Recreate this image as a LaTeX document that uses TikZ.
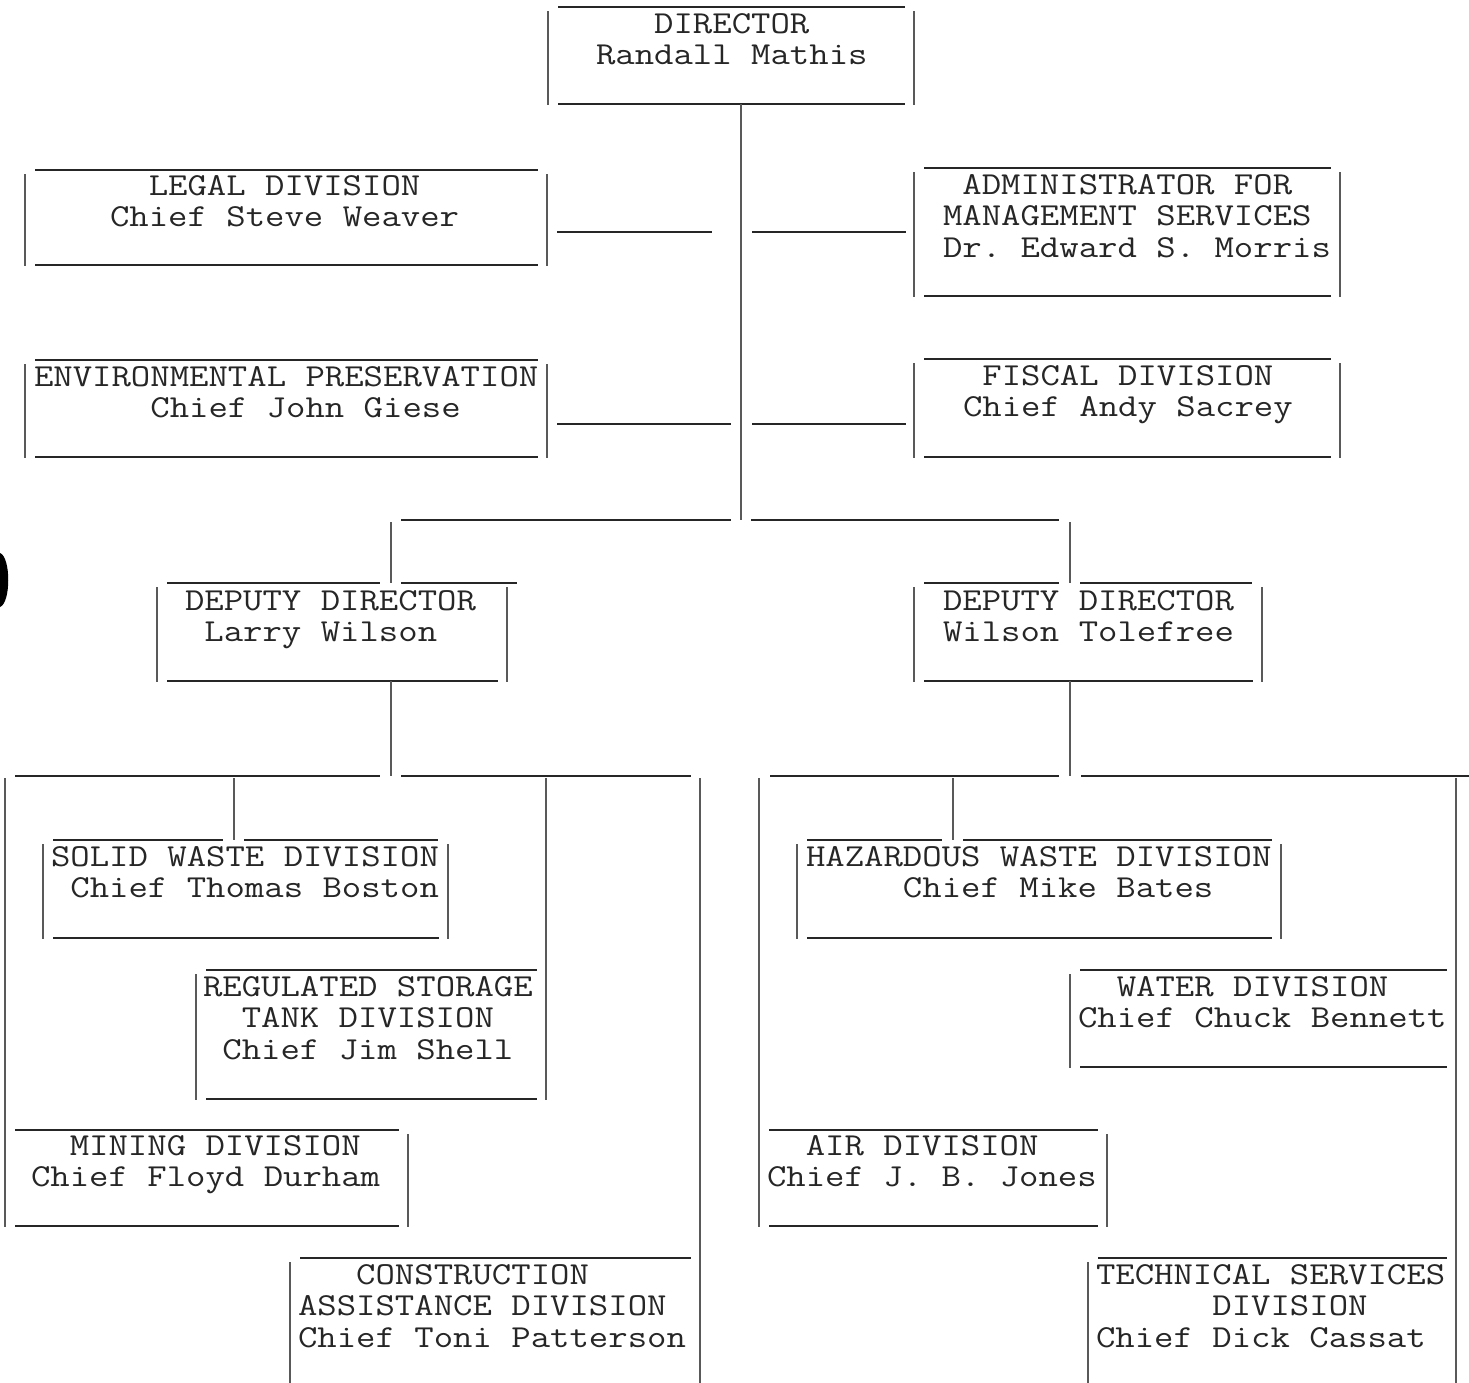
\documentclass[tikz,border=0pt]{standalone}
\usetikzlibrary{calc}
\newcommand\twtext[1]{\scalebox{1.177}[1]{\begin{tabular}[t]{@{}l@{}}#1\end{tabular}}}
\newcommand\twind[1]{\hphantom{#1}}
\tikzset{
  hl/.style={line width=1.7pt, draw=black!85},
  vl/.style={line width=1.1pt, draw=black!65},
  area/.style={rectangle, draw=none, inner sep=0pt, outer sep=0pt},
  txt/.style={anchor=base west, inner sep=0pt, outer sep=0pt, text=black!85, font=\ttfamily\frenchspacing\fontsize{32}{31.7}\selectfont},
}
\newcommand\twsides[1]{%
  \draw[vl] ($(#1.north west)+(0,4)$) -- ($(#1.south west)+(0,1)$);
  \draw[vl] ($(#1.north east)+(0,4)$) -- ($(#1.south east)+(0,1)$);
  \draw[hl] ($(#1.south west)+(10,0)$) -- ($(#1.south east)+(-9,0)$);
}
\newcommand\twbox[5]{%
  \node[area, minimum width={#4-#2}, minimum height={#5-#3}] (#1) at ({(#2+#4)/2},{(#3+#5)/2}) {};
  \twsides{#1}
  \draw[hl] ($(#1.north west)+(10,0)$) -- ($(#1.north east)+(-9,0)$);
}
\newcommand\twboxg[7]{%
  \node[area, minimum width={#4-#2}, minimum height={#5-#3}] (#1) at ({(#2+#4)/2},{(#3+#5)/2}) {};
  \twsides{#1}
  \draw[hl] ($(#1.north west)+(10,0)$) -- (#6-11,#3);
  \draw[hl] (#6+10,#3) -- (#7,#3);
}
\begin{document}
\begin{tikzpicture}[x=1pt,y=-1pt]
\path[use as bounding box] (0,0) rectangle (1469,1382);
\clip (0,0) rectangle (1469,1382);
\fill[white] (0,0) rectangle (1469,1382);

% boxes
\twbox{dir}{548}{7}{914}{104}
\twbox{legal}{25}{170}{547}{265}
\twbox{admin}{914}{168}{1340}{296}
\twbox{env}{25}{360}{547}{457}
\twbox{fiscal}{914}{359}{1340}{457}
\twboxg{depL}{157}{583}{507}{681}{391}{517}
\twboxg{depR}{914}{583}{1262}{681}{1070}{1252}
\twboxg{solid}{43}{840}{448}{938}{234}{438}
\twbox{reg}{196}{970}{546}{1099}
\twbox{mining}{5}{1130}{408}{1226}
\twbox{constr}{290}{1258}{700}{1420}
\twboxg{haz}{797}{840}{1281}{938}{953}{1272}
\twbox{water}{1070}{970}{1456}{1067}
\twbox{air}{759}{1130}{1107}{1226}
\twbox{tech}{1088}{1258}{1456}{1420}

% texts
\node[txt] (dirT) at (596,33) {\twtext{\twind{XXX}DIRECTOR\\Randall Mathis}};
\node[txt] (legalT) at (110,195) {\twtext{\twind{XX}LEGAL DIVISION\\Chief Steve Weaver}};
\node[txt] (adminT) at (943,194) {\twtext{\twind{X}ADMINISTRATOR FOR\\MANAGEMENT SERVICES\\Dr. Edward S. Morris}};
\node[txt] (envT) at (34,386) {\twtext{ENVIRONMENTAL PRESERVATION\\\twind{XXXXXX}Chief John Giese}};
\node[txt] (fiscalT) at (963,385) {\twtext{\twind{X}FISCAL DIVISION\\Chief Andy Sacrey}};
\node[txt] (depLT) at (185,610) {\twtext{DEPUTY DIRECTOR\\\twind{X}Larry Wilson}};
\node[txt] (depRT) at (943,610) {\twtext{DEPUTY DIRECTOR\\Wilson Tolefree}};
\node[txt] (solidT) at (51,866) {\twtext{SOLID WASTE DIVISION\\\twind{X}Chief Thomas Boston}};
\node[txt] (regT) at (203,996) {\twtext{REGULATED STORAGE\\\twind{XX}TANK DIVISION\\\twind{X}Chief Jim Shell}};
\node[txt] (miningT) at (31,1155) {\twtext{\twind{XX}MINING DIVISION\\Chief Floyd Durham}};
\node[txt] (constrT) at (298,1284) {\twtext{\twind{XXX}CONSTRUCTION\\ASSISTANCE DIVISION\\Chief Toni Patterson}};
\node[txt] (hazT) at (806,866) {\twtext{HAZARDOUS WASTE DIVISION\\\twind{XXXXX}Chief Mike Bates}};
\node[txt] (waterT) at (1078,996) {\twtext{\twind{XX}WATER DIVISION\\Chief Chuck Bennett}};
\node[txt] (airT) at (767,1155) {\twtext{\twind{XX}AIR DIVISION\\Chief J. B. Jones}};
\node[txt] (techT) at (1096,1284) {\twtext{TECHNICAL SERVICES\\\twind{XXXXXX}DIVISION\\Chief Dick Cassat}};

% top level connectors
\coordinate (sp) at (741,520);
\coordinate (sL) at (741,232);
\coordinate (sE) at (741,424);
\draw[vl] (dir.south -| sp) -- (sp);
\draw[hl] ($(legal.east |- sL)+(10,0)$) -- ($(sL)+(-29,0)$);
\draw[hl] ($(sL)+(11,0)$) -- ($(admin.west |- sL)+(-8,0)$);
\draw[hl] ($(env.east |- sE)+(10,0)$) -- ($(sE)+(-10,0)$);
\draw[hl] ($(sE)+(11,0)$) -- ($(fiscal.west |- sE)+(-8,0)$);
\coordinate (jL) at (391,520);
\coordinate (jR) at (1070,520);
\draw[hl] ($(jL)+(10,0)$) -- ($(sp)+(-10,0)$);
\draw[hl] ($(sp)+(10,0)$) -- ($(jR)+(-11,0)$);
\draw[vl] ($(jL)+(0,2)$) -- (depL.north -| jL);
\draw[vl] ($(jR)+(0,2)$) -- (depR.north -| jR);

% left group
\coordinate (bL) at (391,776);
\coordinate (k1) at (5,776);
\coordinate (k2) at (234,776);
\coordinate (k3) at (546,776);
\coordinate (k4) at (700,776);
\draw[vl] (depL.south -| bL) -- (bL);
\draw[hl] ($(k1)+(10,0)$) -- ($(bL)+(-11,0)$);
\draw[hl] ($(bL)+(10,0)$) -- ($(k4)+(-9,0)$);
\draw[vl] ($(k1)+(0,2)$) -- ($(mining.north west)+(0,4)$);
\draw[vl] ($(k2)+(0,2)$) -- (solid.north -| k2);
\draw[vl] ($(k3)+(0,2)$) -- ($(reg.north east)+(0,4)$);
\draw[vl] ($(k4)+(0,2)$) -- ($(constr.north east)+(0,4)$);

% right group
\coordinate (bR) at (1070,776);
\coordinate (m1) at (759,776);
\coordinate (m2) at (953,776);
\coordinate (m3) at (1456,776);
\draw[vl] (depR.south -| bR) -- (bR);
\draw[hl] ($(m1)+(11,0)$) -- ($(bR)+(-11,0)$);
\draw[hl] ($(bR)+(11,0)$) -- ($(m3)+(13,0)$);
\draw[vl] ($(m1)+(0,2)$) -- ($(air.north west)+(0,4)$);
\draw[vl] ($(m2)+(0,2)$) -- (haz.north -| m2);
\draw[vl] ($(m3)+(0,2)$) -- ($(water.north east)+(0,4)$);
\draw[vl] ($(water.south east)+(0,1)$) -- ($(tech.north east)+(0,4)$);

% hole punch shadow at left edge
\fill[black] (0,553) .. controls (11,557) and (11,603) .. (0,607) -- cycle;
\end{tikzpicture}
\end{document}
